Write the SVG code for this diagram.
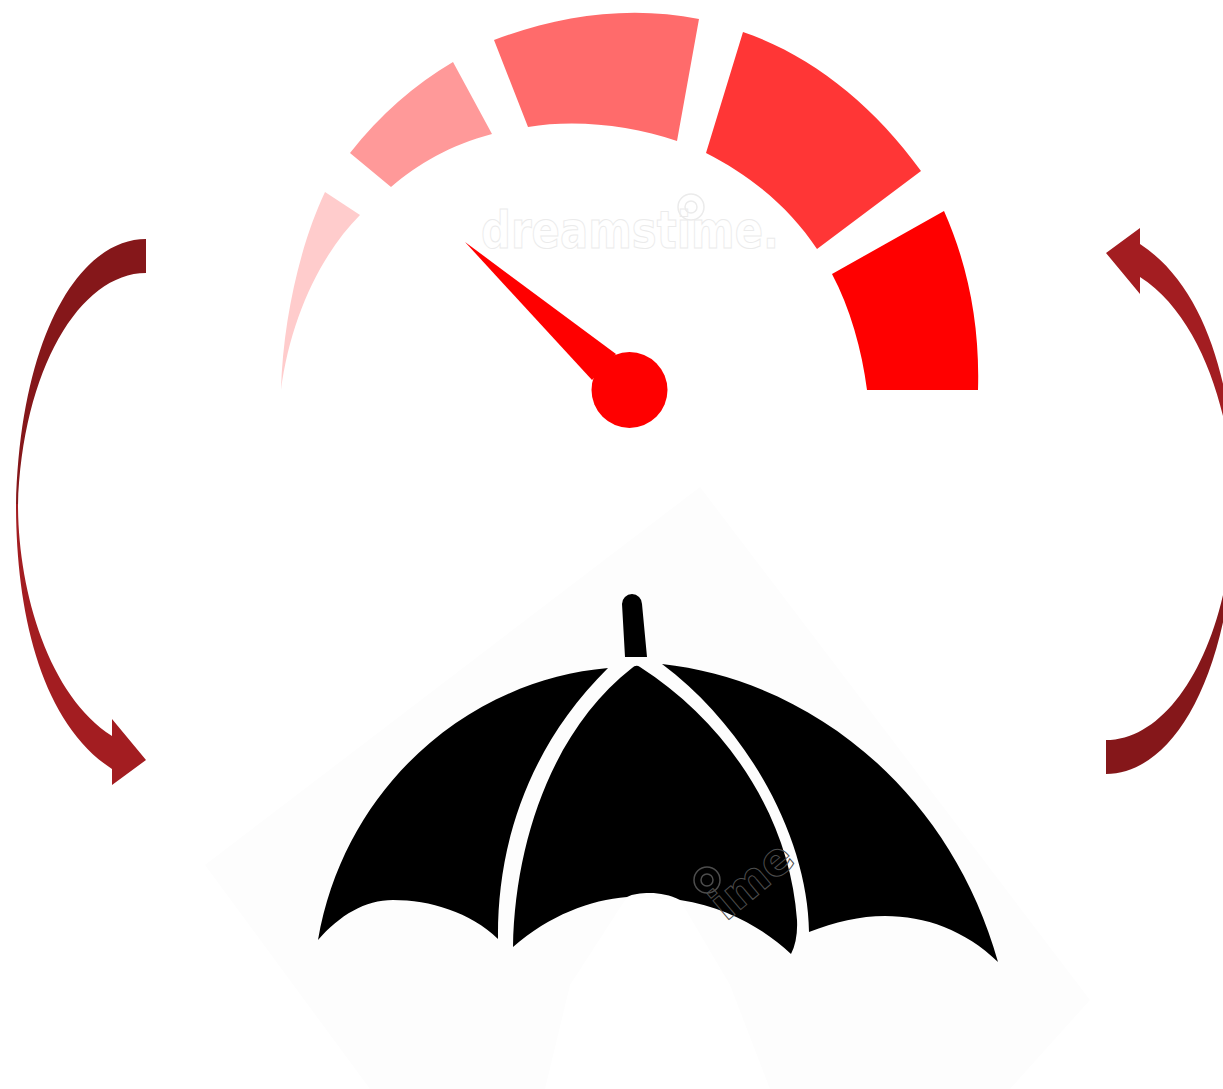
<svg xmlns="http://www.w3.org/2000/svg" width="1223" height="1089" viewBox="0 0 1223 1089">
<style>
.mark{font-family:"DejaVu Sans",sans-serif;font-weight:700;fill:none;stroke-width:1}
.swirl{fill:none;stroke-width:1.5}
.dark{fill:#85171a}.light{fill:#a31d21}
.panel{fill:#000}
</style>
<defs>
<g id="arrow-shape">
<path class="dark" d="M146,239C80,239 20,335 16,506L18,506C22,370 80,273 146,273Z"/>
<path class="light" d="M16,504C16,610 40,722 112,769L112,785L146,760L112,719L112,736C48,695 18,590 18,504Z"/>
</g>
</defs>
<rect width="1223" height="1089" fill="#fff"/>
<g id="backdrop">
<polygon points="700,487 1090,1000 1010,1089 370,1089 205,865" fill="#fdfdfd"/>
<path d="M545,1089L570,985L627,897L680,900L730,985L770,1089Z" fill="#fff"/>
</g>
<g id="gauge">
<path fill="#ffcccc" d="M325,192C300,245 283,320 281,390C290,320 320,255 360,215Z"/>
<path fill="#ff9999" d="M350,153C380,115 415,84 453,62L492,134C450,145 418,164 391,187Z"/>
<path fill="#ff6b6b" d="M494,40C560,15 630,5 699,19L677,141C630,125 575,119 528,127Z"/>
<path fill="#ff3636" d="M743,32C810,55 872,103 921,171L817,249C790,208 750,175 706,153Z"/>
<path fill="#ff0000" d="M944,211C968,265 980,325 978,390L867,390C862,350 850,308 832,274Z"/>
</g>
<g id="needle" fill="#ff0000">
<polygon points="465,242 616,354 592,380"/>
<circle cx="629.5" cy="390" r="38"/>
</g>
<g id="watermark-top">
<text class="mark" x="481" y="248" font-size="51" textLength="298" lengthAdjust="spacingAndGlyphs" stroke="#ebebeb">dreamstime.</text>
<circle class="swirl" cx="691" cy="207" r="13" fill="#fff" stroke="#ebebeb"/>
<circle class="swirl" cx="691" cy="207" r="6" stroke="#ebebeb"/>
</g>
<g id="umbrella">
<path class="panel" d="M622,604A10,10 0 0 1 642,604L647,657L625,657Z"/>
<path class="panel" d="M608,668C470,680 345,785 318,940C340,915 365,900 393,900C430,900 470,912 498,939C497,850 525,750 608,668Z"/>
<path class="panel" d="M632,668Q636,664 640,667C730,725 790,820 797,920Q798,940 791,954C765,930 730,908 680,900C670,895 660,893 650,893C640,893 633,894 627,897C590,900 550,915 513,947C515,840 553,730 632,668Z"/>
<path class="panel" d="M662,664C810,680 950,790 998,962C965,930 925,916 885,916C860,916 835,922 809,932C808,840 750,730 662,664Z"/>
</g>
<g id="watermark-umbrella">
<text class="mark" transform="translate(726,922) rotate(-40)" font-size="45" stroke="#4d4d4d">ime</text>
<circle class="swirl" cx="707" cy="880" r="13" fill="#000" stroke="#4d4d4d"/>
<circle class="swirl" cx="707" cy="880" r="6" stroke="#4d4d4d"/>
</g>
<g id="connectors">
<use id="arrow-left" href="#arrow-shape"/>
<use id="arrow-right" href="#arrow-shape" transform="translate(1252,1013) scale(-1,-1)"/>
</g>
</svg>
